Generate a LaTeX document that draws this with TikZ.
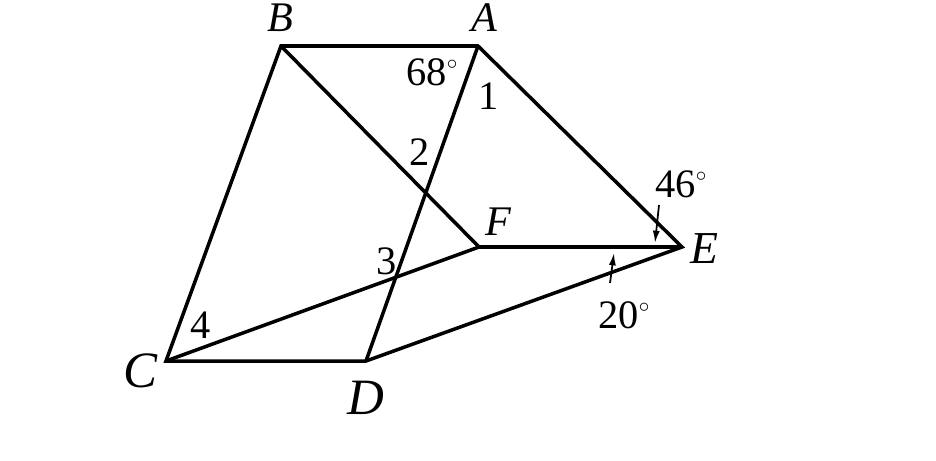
\documentclass[tikz,border=0pt]{standalone}
\usepackage{fontspec}
\setmainfont{Liberation Serif}
\usetikzlibrary{arrows.meta}
\newcommand{\dg}{$^{\scriptscriptstyle\circ}$}
\tikzset{edge/.style={line width=2pt, line join=miter},
  pointer/.style={line width=1pt, -{Latex[length=7pt,width=4pt]}},
  vlabel/.style={inner sep=0pt, font=\fontsize{24}{28}\selectfont\itshape},
  nlabel/.style={inner sep=0pt, font=\fontsize{23}{27}\selectfont}}

\begin{document}
\begin{tikzpicture}[x=0.02cm,y=-0.02cm]
\useasboundingbox (0,0) rectangle (936,460);
\coordinate (B) at (281,46);
\coordinate (A) at (478,46);
\coordinate (E) at (682,247);
\coordinate (F) at (479,247);
\coordinate (C) at (166,361);
\coordinate (D) at (366,361);
\draw[edge] (C) -- (B) -- (A) -- (E) -- (D) -- cycle;
\draw[edge] (B) -- (F) -- (E);
\draw[edge] (C) -- (F);
\draw[edge] (A) -- (D);
\node[vlabel] (lB) at (280,18) {B};
\node[vlabel] (lA) at (484,18) {A};
\node[vlabel] (lF) at (498,222) {F};
\node[vlabel, font=\fontsize{26}{30}\selectfont\itshape] (lE) at (704,249) {E};
\node[vlabel, font=\fontsize{29}{33}\selectfont\itshape] (lC) at (140,371) {C};
\node[vlabel, font=\fontsize{29}{33}\selectfont\itshape] (lD) at (366,398) {D};
\node[nlabel, anchor=base west] (a68) at (406,85) {68\dg};
\node[nlabel, anchor=base west] (a46) at (655,197) {46\dg};
\node[nlabel, anchor=base west] (a20) at (598,328) {20\dg};
\node[nlabel] (n1) at (489,96) {1};
\node[nlabel] (n2) at (420,152) {2};
\node[nlabel] (n3) at (387,261) {3};
\node[nlabel] (n4) at (201,325) {4};
\coordinate (p46) at (659,205);
\coordinate (q46) at (655,243);
\coordinate (p20) at (610,283);
\coordinate (q20) at (614,253);
\draw[pointer] (p46) -- (q46);
\draw[pointer] (p20) -- (q20);
\end{tikzpicture}
\end{document}
